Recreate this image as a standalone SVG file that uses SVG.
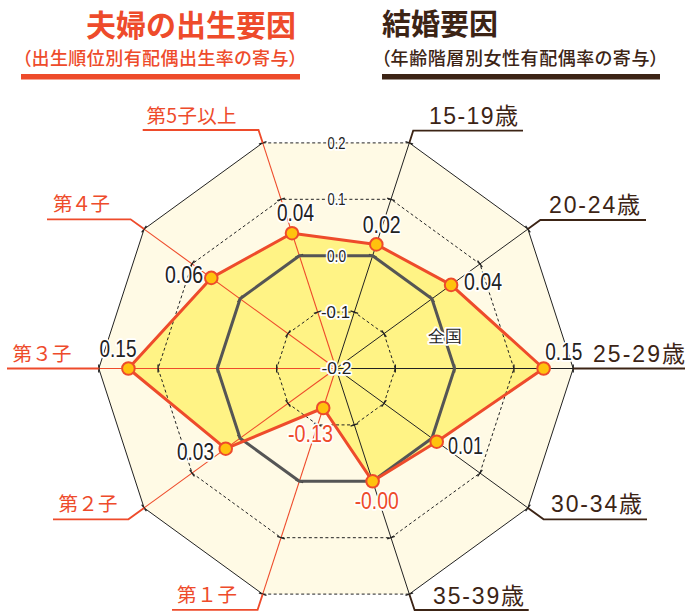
<svg xmlns="http://www.w3.org/2000/svg" xmlns:xlink="http://www.w3.org/1999/xlink" width="685" height="611" viewBox="0 0 685 611">
<defs>
<style>
.jp{font-family:"Noto Sans CJK JP","Noto Sans CJK SC",sans-serif;}
.red{fill:#EE4B2B;}
.brn{fill:#3C2415;}
.ttl{font-size:30px;font-weight:700;}
.sub{font-size:18px;font-weight:500;font-feature-settings:"palt";}
.ax{font-family:"Liberation Sans","Noto Sans CJK JP",Arial,sans-serif;font-size:23px;fill:#3C2415;}
.lab{font-size:19.5px;fill:#EE4B2B;}
.num{font-family:"Liberation Sans",Arial,sans-serif;font-size:23.5px;fill:#222;stroke:#fff;stroke-width:3.5px;stroke-linejoin:round;paint-order:stroke;}
.num.neg{fill:#EE4B2B;}
.sc{font-family:"Liberation Sans",Arial,sans-serif;font-size:16.5px;fill:#222;stroke:#fff;stroke-width:3.5px;stroke-linejoin:round;paint-order:stroke;text-anchor:middle;}
.ring{fill:none;stroke:#222;stroke-width:1;}
.dash{stroke-dasharray:3 2.5;}
.blk{stroke:#222;stroke-width:1;fill:none;}
.rax{stroke:#EE4B2B;stroke-width:1.1;fill:none;}
.rld{stroke:#EE4B2B;stroke-width:1.8;fill:none;}
.bld{stroke:#3C2415;stroke-width:1.8;fill:none;}
.tk{stroke:#222;stroke-width:1.4;}
.dot{fill:#FFC20E;stroke:#EE4B2B;stroke-width:2;}
</style>
<g id="tickrow">
<line class="tk" x1="395.3" y1="364.5" x2="395.3" y2="372.5"/>
<line class="tk" x1="454.6" y1="364.5" x2="454.6" y2="372.5"/>
<line class="tk" x1="513.9" y1="364.5" x2="513.9" y2="372.5"/>
<line class="tk" x1="573.2" y1="364.5" x2="573.2" y2="372.5"/>
</g>
</defs>

<g id="title-left">
<text class="jp red ttl" x="86" y="35.5">夫婦の出生要因</text>
<text class="jp red sub" x="22" y="64.5" textLength="276" lengthAdjust="spacing">（出生順位別有配偶出生率の寄与）</text>
<rect x="21" y="74" width="279" height="5.5" fill="#EE4B2B"/>
</g>
<g id="title-right">
<text class="jp brn ttl" x="382" y="34.5" style="font-size:29px">結婚要因</text>
<text class="jp brn sub" x="381" y="64.5" textLength="278" lengthAdjust="spacing">（年齢階層別女性有配偶率の寄与）</text>
<rect x="382" y="74" width="278" height="5.5" fill="#3C2415"/>
</g>

<g id="chart">
<polygon points="573.2,368.5 527.9,229.1 409.3,142.9 262.7,142.9 144.1,229.1 98.8,368.5 144.1,507.9 262.7,594.1 409.3,594.1 527.9,507.9" fill="#FFFAE5"/>
<polygon points="376.3,244.4 451.1,284.9 543.6,368.5 436.7,441.7 372.6,481.3 323.2,408.0 225.7,448.7 128.4,368.5 211.3,277.9 292.0,233.2" fill="#FFF385"/>
<path class="ring" d="M262.7,142.9 L144.1,229.1 L98.8,368.5 L144.1,507.9 L262.7,594.1 M409.3,594.1 L527.9,507.9 L573.2,368.5 L527.9,229.1 L409.3,142.9"/>
<path class="ring dash" d="M262.7,142.9 H409.3 M262.7,594.1 H409.3"/>
<polygon class="ring dash" points="513.9,368.5 479.9,263.9 391.0,199.3 281.0,199.3 192.1,263.9 158.1,368.5 192.1,473.1 281.0,537.7 391.0,537.7 479.9,473.1"/>
<polygon class="ring dash" points="395.3,368.5 384.0,333.6 354.3,312.1 317.7,312.1 288.0,333.6 276.7,368.5 288.0,403.4 317.7,424.9 354.3,424.9 384.0,403.4"/>
<g id="axes-right">
<line class="blk" x1="336" y1="368.5" x2="573.2" y2="368.5"/>
<line class="blk" x1="336" y1="368.5" x2="527.9" y2="229.1"/>
<line class="blk" x1="336" y1="368.5" x2="409.3" y2="142.9"/>
<line class="blk" x1="336" y1="368.5" x2="409.3" y2="594.1"/>
<line class="blk" x1="336" y1="368.5" x2="527.9" y2="507.9"/>
</g>
<g id="axes-left">
<line class="rax" x1="336" y1="368.5" x2="262.7" y2="142.9"/>
<line class="rax" x1="336" y1="368.5" x2="144.1" y2="229.1"/>
<line class="rax" x1="336" y1="368.5" x2="98.8" y2="368.5"/>
<line class="rax" x1="336" y1="368.5" x2="144.1" y2="507.9"/>
<line class="rax" x1="336" y1="368.5" x2="262.7" y2="594.1"/>
</g>
<g id="ticks">
<use xlink:href="#tickrow"/>
<use xlink:href="#tickrow" transform="rotate(-36 336 368.5)"/>
<use xlink:href="#tickrow" transform="rotate(-72 336 368.5)"/>
<use xlink:href="#tickrow" transform="rotate(-108 336 368.5)"/>
<use xlink:href="#tickrow" transform="rotate(-144 336 368.5)"/>
<use xlink:href="#tickrow" transform="rotate(-180 336 368.5)"/>
<use xlink:href="#tickrow" transform="rotate(-216 336 368.5)"/>
<use xlink:href="#tickrow" transform="rotate(-252 336 368.5)"/>
<use xlink:href="#tickrow" transform="rotate(-288 336 368.5)"/>
<use xlink:href="#tickrow" transform="rotate(-324 336 368.5)"/>
</g>
<polygon id="zenkoku" points="454.6,368.5 431.9,298.8 372.6,255.7 299.4,255.7 240.1,298.8 217.4,368.5 240.1,438.2 299.4,481.3 372.6,481.3 431.9,438.2" fill="none" stroke="#555" stroke-width="3" stroke-linejoin="round"/>
<g id="scale">
<text class="sc" x="336.5" y="148.8" textLength="18" lengthAdjust="spacingAndGlyphs">0.2</text>
<text class="sc" x="336.5" y="205.2" textLength="18" lengthAdjust="spacingAndGlyphs">0.1</text>
<text class="sc" x="336.5" y="261.6" textLength="19" lengthAdjust="spacingAndGlyphs">0.0</text>
<text class="sc" x="335.5" y="318" textLength="29" lengthAdjust="spacingAndGlyphs">-0.1</text>
<text class="sc" x="336.5" y="374.4" textLength="30" lengthAdjust="spacingAndGlyphs">-0.2</text>
</g>
</g>

<g id="connectors">
<polyline class="rld" points="262.7,142.9 258.5,130 142.7,130"/>
<polyline class="rld" points="144.1,229.1 130.6,219.3 47,219.3"/>
<polyline class="rld" points="98.8,368.5 7,368.5"/>
<polyline class="rld" points="144.1,507.9 128.4,519.3 53,519.3"/>
<polyline class="rld" points="262.7,594.1 257.6,609.8 172,609.8"/>
<polyline class="bld" points="409.3,142.9 413.2,130.7 523,130.7"/>
<polyline class="bld" points="527.9,229.1 540.3,220 646,220"/>
<polyline class="bld" points="573.2,368.5 685,368.5"/>
<polyline class="bld" points="527.9,507.9 543.6,519.3 647,519.3"/>
<polyline class="bld" points="409.3,594.1 414.6,610 528.7,610"/>
</g>

<g id="data">
<polygon points="376.3,244.4 451.1,284.9 543.6,368.5 436.7,441.7 372.6,481.3 323.2,408.0 225.7,448.7 128.4,368.5 211.3,277.9 292.0,233.2" fill="none" stroke="#EE4B2B" stroke-width="3" stroke-linejoin="round"/>
<circle class="dot" cx="376.3" cy="244.4" r="6.3"/>
<circle class="dot" cx="451.1" cy="284.9" r="6.3"/>
<circle class="dot" cx="543.6" cy="368.5" r="6.3"/>
<circle class="dot" cx="436.7" cy="441.7" r="6.3"/>
<circle class="dot" cx="372.6" cy="481.3" r="6.3"/>
<circle class="dot" cx="323.2" cy="408.0" r="6.3"/>
<circle class="dot" cx="225.7" cy="448.7" r="6.3"/>
<circle class="dot" cx="128.4" cy="368.5" r="6.3"/>
<circle class="dot" cx="211.3" cy="277.9" r="6.3"/>
<circle class="dot" cx="292.0" cy="233.2" r="6.3"/>
</g>

<g id="values">
<text class="num" x="277" y="220.5" textLength="37" lengthAdjust="spacingAndGlyphs">0.04</text>
<text class="num" x="165" y="282.5" textLength="38" lengthAdjust="spacingAndGlyphs">0.06</text>
<text class="num" x="99.5" y="357" textLength="37" lengthAdjust="spacingAndGlyphs">0.15</text>
<text class="num" x="177" y="460" textLength="37" lengthAdjust="spacingAndGlyphs">0.03</text>
<text class="num neg" x="288" y="441.7" textLength="45" lengthAdjust="spacingAndGlyphs">-0.13</text>
<text class="num" x="362.7" y="233" textLength="38" lengthAdjust="spacingAndGlyphs">0.02</text>
<text class="num" x="464" y="289.5" textLength="38" lengthAdjust="spacingAndGlyphs">0.04</text>
<text class="num" x="545.3" y="360" textLength="37" lengthAdjust="spacingAndGlyphs">0.15</text>
<text class="num" x="448" y="454" textLength="35" lengthAdjust="spacingAndGlyphs">0.01</text>
<text class="num neg" x="354.7" y="509.3" textLength="44" lengthAdjust="spacingAndGlyphs">-0.00</text>
<text class="num jp" x="427.5" y="341.5" style="font-size:17px">全国</text>
</g>

<g id="label-15-19"><text class="ax" x="429" y="124" textLength="89" lengthAdjust="spacing">15-19歳</text></g>
<g id="label-20-24"><text class="ax" x="549" y="213" textLength="91" lengthAdjust="spacing">20-24歳</text></g>
<g id="label-25-29"><text class="ax" x="593" y="362" textLength="92" lengthAdjust="spacing">25-29歳</text></g>
<g id="label-30-34"><text class="ax" x="551" y="511.5" textLength="91" lengthAdjust="spacing">30-34歳</text></g>
<g id="label-35-39"><text class="ax" x="433" y="604" textLength="91" lengthAdjust="spacing">35-39歳</text></g>
<g id="label-5"><text class="jp lab" x="146.5" y="123" textLength="90" lengthAdjust="spacing">第5子以上</text></g>
<g id="label-4"><text class="jp lab" x="53" y="211" textLength="57" lengthAdjust="spacing">第４子</text></g>
<g id="label-3"><text class="jp lab" x="12.5" y="360.5" textLength="59" lengthAdjust="spacing">第３子</text></g>
<g id="label-2"><text class="jp lab" x="58.5" y="510.5" textLength="59" lengthAdjust="spacing">第２子</text></g>
<g id="label-1"><text class="jp lab" x="177" y="602" textLength="60" lengthAdjust="spacing">第１子</text></g>
</svg>
